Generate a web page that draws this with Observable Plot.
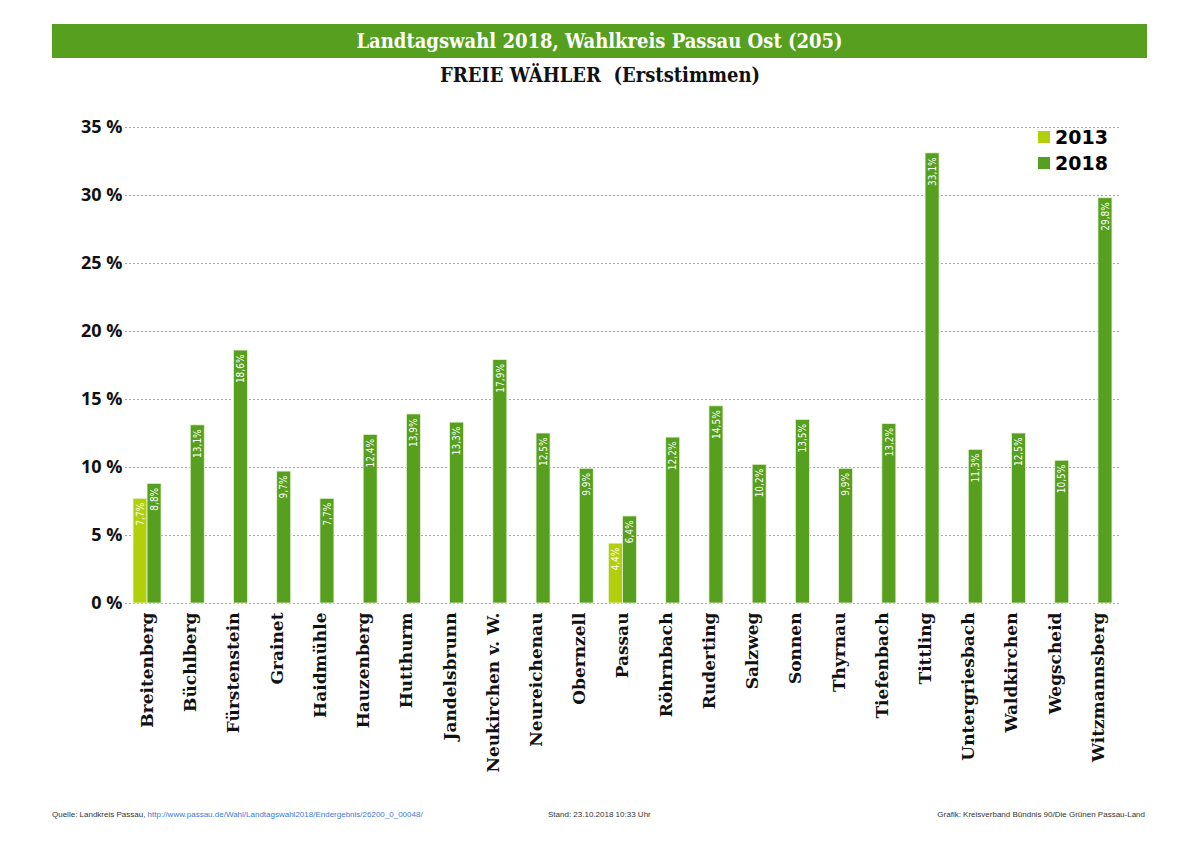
<!DOCTYPE html>
<html><head><meta charset="utf-8">
<script src="https://cdn.jsdelivr.net/npm/d3@7"></script>
<script src="https://cdn.jsdelivr.net/npm/@observablehq/plot@0.6"></script>
<style>
body{margin:0;background:#fff;}
#wrap{position:relative;width:1200px;height:848px;overflow:hidden;}
#titlebar{position:absolute;left:52px;top:24px;width:1095px;height:34px;background:#57a01f;color:#fff;
 font-family:"DejaVu Serif Condensed","DejaVu Serif",serif;font-weight:bold;font-size:20px;line-height:34px;text-align:center;}
#subtitle{position:absolute;left:0;top:63px;width:1200px;text-align:center;font-family:"DejaVu Serif Condensed","DejaVu Serif",serif;font-weight:bold;font-size:20px;color:#111;}
#chart{position:absolute;left:0;top:100px;}
#legend{position:absolute;left:1038px;top:124px;font-family:"DejaVu Sans",sans-serif;font-weight:bold;font-size:19px;color:#000;}
#legend div{display:flex;align-items:center;height:26px;}
#legend span.sw{display:inline-block;width:12px;height:12px;margin-right:5px;}
.foot{position:absolute;top:810px;font-family:"Liberation Sans",sans-serif;font-size:8px;color:#333;white-space:nowrap;}
.foot a{color:#3a7bd5;text-decoration:none;}
</style></head>
<body>
<div id="wrap">
<div id="titlebar">Landtagswahl 2018, Wahlkreis Passau Ost (205)</div>
<div id="subtitle">FREIE WÄHLER&nbsp; (Erststimmen)</div>
<div id="chart"></div>
<div id="legend"></div>
<div class="foot" style="left:52px">Quelle: Landkreis Passau, <a>http://www.passau.de/Wahl/Landtagswahl2018/Endergebnis/26200_0_00048/</a></div>
<div class="foot" style="left:548px">Stand: 23.10.2018 10:33 Uhr</div>
<div class="foot" style="right:55px">Grafik: Kreisverband Bündnis 90/Die Grünen Passau-Land</div>
</div>
<script>
const categories = ["Breitenberg","Büchlberg","Fürstenstein","Grainet","Haidmühle","Hauzenberg","Hutthurm","Jandelsbrunn","Neukirchen v. W.","Neureichenau","Obernzell","Passau","Röhrnbach","Ruderting","Salzweg","Sonnen","Thyrnau","Tiefenbach","Tittling","Untergriesbach","Waldkirchen","Wegscheid","Witzmannsberg"];
const values2013 = [7.7,null,null,null,null,null,null,null,null,null,null,4.4,null,null,null,null,null,null,null,null,null,null,null];
const values2018 = [8.8,13.1,18.6,9.7,7.7,12.4,13.9,13.3,17.9,12.5,9.9,6.4,12.2,14.5,10.2,13.5,9.9,13.2,33.1,11.3,12.5,10.5,29.8];
const years = ["2013","2018"];
const colors = ["#b2cf0b","#57a01f"];
const yTicks = [0,5,10,15,20,25,30,35];

const d13 = categories.map((c,i)=>({cat:c,v:values2013[i]})).filter(d=>d.v!=null);
const d18 = categories.map((c,i)=>({cat:c,v:values2018[i]})).filter(d=>d.v!=null);
const fmt = v => v.toFixed(1).replace(".", ",") + "%";
const labelFont = "'Liberation Sans Narrow','DejaVu Sans Condensed',sans-serif";

const chart = Plot.plot({
  width: 1200, height: 700,
  marginLeft: 125, marginRight: 80, marginTop: 27, marginBottom: 197,
  x: {domain: categories, paddingInner: 0.352, paddingOuter: 0.186, round: false},
  y: {domain: [0,35]},
  marks: [
    Plot.ruleY(yTicks, {stroke:"#a8a8a8", strokeDasharray:"2,2", strokeWidth:1}),
    Plot.barY(d13, {x:"cat", y:"v", fill: colors[0], insetRight: 14, stroke:"#e9f2d6", strokeWidth:0.8}),
    Plot.barY(d18, {x:"cat", y:"v", fill: colors[1], insetLeft: 14, stroke:"#e9f2d6", strokeWidth:0.8}),
    Plot.text(d13, {x:"cat", y:"v", text: d=>fmt(d.v), dx:-7, dy:4, rotate:-90, textAnchor:"end", lineAnchor:"middle", fill:"#fff", fontSize:10, fontFamily:labelFont}),
    Plot.text(d18, {x:"cat", y:"v", text: d=>fmt(d.v), dx:7, dy:4, rotate:-90, textAnchor:"end", lineAnchor:"middle", fill:"#fff", fontSize:10, fontFamily:labelFont}),
    Plot.axisY({ticks: yTicks, tickFormat: d=>d+" %", tickSize:0, tickPadding:3, fontSize:18, fontWeight:"bold", fontFamily:"'Open Sans',sans-serif", fill:"#111", label:null}),
    Plot.axisX({tickSize:0, tickPadding:9, tickRotate:-90, fontSize:17, fontWeight:"bold", fontFamily:"'DejaVu Serif',serif", fill:"#111", label:null})
  ]
});
document.getElementById("chart").appendChild(chart);

const leg = document.getElementById("legend");
years.forEach((y,i)=>{
  const row = document.createElement("div");
  row.innerHTML = `<span class="sw" style="background:${colors[i]}"></span>${y}`;
  leg.appendChild(row);
});
</script>
</body></html>
